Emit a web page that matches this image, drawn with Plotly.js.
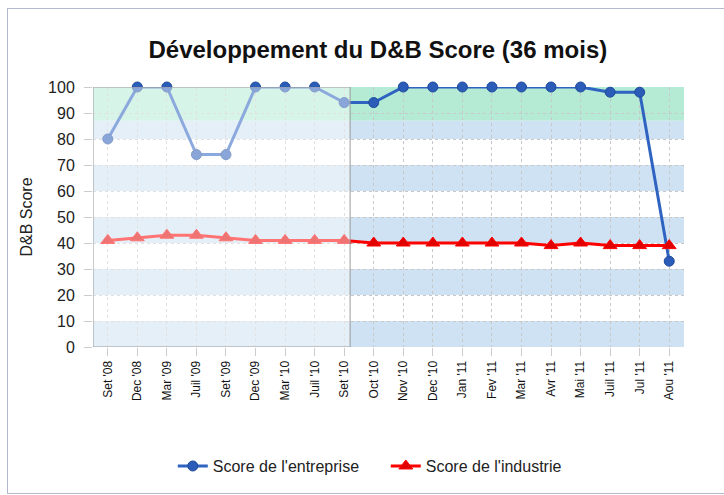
<!DOCTYPE html>
<html>
<head>
<meta charset="utf-8">
<script src="https://cdn.plot.ly/plotly-3.0.1.min.js"></script>
<style>
html,body{margin:0;padding:0;background:#fff;}
#wrap{position:relative;width:724px;height:495px;}
#chart{width:724px;height:495px;}
#frame{position:absolute;left:7px;top:8px;width:730px;height:484px;border:1px solid #b4b8cc;pointer-events:none;}
</style>
</head>
<body>
<div id="wrap"><div id="chart"></div><div id="frame"></div></div>
<script>
const categories = ["Set '08","Dec '08","Mar '09","Juil '09","Set '09","Dec '09","Mar '10","Juil '10","Set '10","Oct '10","Nov '10","Dec '10","Jan '11","Fev '11","Mar '11","Avr '11","Mai '11","Juil '11","Jul '11","Aou '11"];
const entrepriseScores = [80,100,100,74,74,100,100,100,94,94,100,100,100,100,100,100,100,98,98,33];
const industrieScores = [41,42,43,43,42,41,41,41,41,40,40,40,40,40,40,39,40,39,39,39];
const yTicks = [0,10,20,30,40,50,60,70,80,90,100];
const historyEndIndex = 8.2;
const greenZone = [87,100];
const blueBands = [[80,87],[60,70],[40,50],[20,30],[0,10]];

const shapes = [];
shapes.push({type:'rect',xref:'paper',yref:'y',x0:0,x1:1,y0:greenZone[0],y1:greenZone[1],fillcolor:'#b5ebd5',line:{width:0},layer:'below'});
blueBands.forEach(b=>shapes.push({type:'rect',xref:'paper',yref:'y',x0:0,x1:1,y0:b[0],y1:b[1],fillcolor:'#cfe2f3',line:{width:0},layer:'below'}));
shapes.push({type:'rect',xref:'x',yref:'y',x0:-0.5,x1:historyEndIndex,y0:0,y1:100,fillcolor:'rgba(255,255,255,0.45)',line:{color:'#9a9a9a',width:1},layer:'above'});

const traces = [
  {x:categories,y:entrepriseScores,name:"Score de l'entreprise",type:'scatter',mode:'lines+markers',cliponaxis:false,
   line:{color:'#2f63c1',width:3},marker:{symbol:'circle',size:10,color:'#2a5cb8',line:{color:'#1d4a9c',width:1}}},
  {x:categories,y:industrieScores,name:"Score de l'industrie",type:'scatter',mode:'lines+markers',cliponaxis:false,
   line:{color:'#ff0000',width:3},marker:{symbol:'triangle-up',size:12,color:'#e00000',line:{color:'#ff0000',width:1}}}
];

const layout = {
  width:724,height:495,
  margin:{l:93,r:40,t:87,b:148},
  paper_bgcolor:'#ffffff',plot_bgcolor:'#ffffff',
  font:{family:'"Liberation Sans", Arial, sans-serif',color:'#222'},
  title:{text:'<b>Développement du D&B Score (36 mois)</b>',font:{size:24,color:'#111',family:'"Liberation Sans", Arial, sans-serif'},xref:'paper',x:0.482,xanchor:'center',y:0.9,yanchor:'middle'},
  xaxis:{type:'category',range:[-0.5,19.5],tickangle:-90,tickfont:{size:12,color:'#111'},
    showgrid:true,gridcolor:'#c8c8c8',griddash:'dot',gridwidth:1,
    ticks:'outside',ticklen:8,tickcolor:'#cccccc',showline:false,zeroline:false,fixedrange:true},
  yaxis:{range:[0,100],tickvals:yTicks,tickfont:{size:16,color:'#222'},ticklabelstandoff:6,
    title:{text:'D&B Score',font:{size:16,color:'#222'},standoff:11},
    showgrid:true,gridcolor:'#c8c8c8',griddash:'dot',gridwidth:1,
    ticks:'outside',ticklen:8,tickcolor:'#cccccc',showline:false,zeroline:false,fixedrange:true},
  showlegend:true,
  legend:{orientation:'h',x:0.135,xanchor:'left',y:-0.458,yanchor:'middle',font:{size:16,color:'#222'},bgcolor:'rgba(0,0,0,0)',entrywidth:168,entrywidthmode:'pixels'},
  shapes:shapes
};
Plotly.newPlot('chart',traces,layout,{displayModeBar:false,staticPlot:true});
</script>
</body>
</html>
